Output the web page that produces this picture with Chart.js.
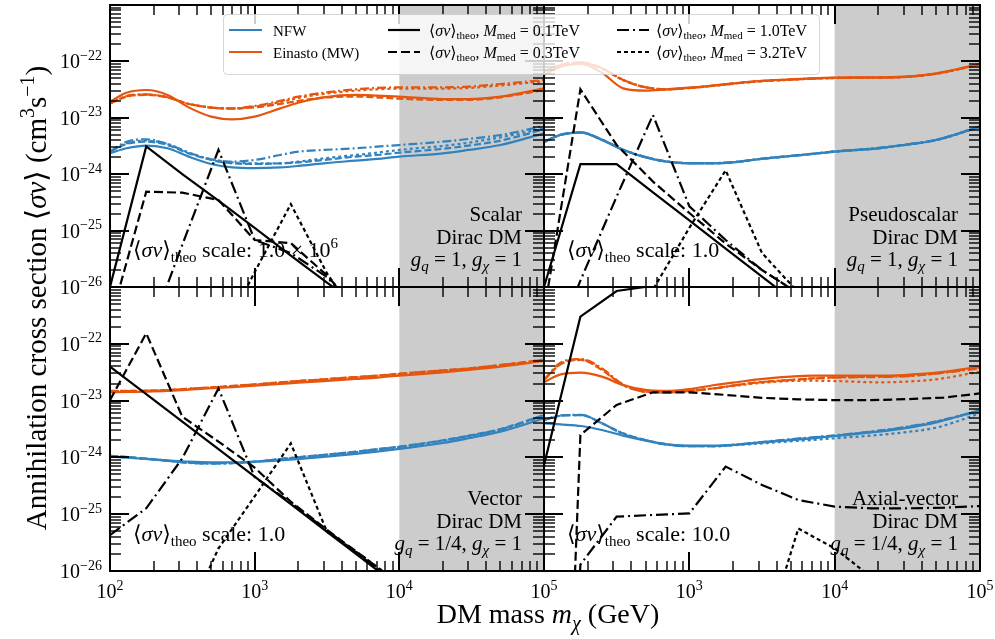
<!DOCTYPE html>
<html>
<head>
<meta charset="utf-8">
<script src="https://cdn.jsdelivr.net/npm/chart.js@4.4.1/dist/chart.umd.min.js"></script>
<style>
  html, body { margin: 0; padding: 0; background: #ffffff; }
  #wrap { position: relative; width: 995px; height: 639px; overflow: hidden; }
  #wrap canvas { position: absolute; left: 0; top: 0; }
</style>
</head>
<body>
<div id="wrap">
  <canvas id="cTL" width="995" height="639"></canvas>
  <canvas id="cTR" width="995" height="639"></canvas>
  <canvas id="cBL" width="995" height="639"></canvas>
  <canvas id="cBR" width="995" height="639"></canvas>
</div>
<script>
// ---------------- DATA ----------------
const massHalo = [100, 130, 180, 250, 350, 500, 700, 1000, 1500, 2000, 3000, 5000, 7000, 10000, 20000, 30000, 50000, 100000];
const massTheo = [100, 178, 316, 562, 1000, 1778, 3162, 5623, 10000, 17783, 31623, 56234, 100000];
const xTickExps = [2, 3, 4, 5];
const yTickExps = [-26, -25, -24, -23, -22, -21];
const xRange = [1e2, 1e5];
const yRange = [1e-26, 1e-21];
const shadeRange = [1e4, 1e5];
const haloLabels = ['NFW', 'Einasto (MW)'];
const mediatorMasses = ['0.1', '0.3', '1.0', '3.2'];
const panelNames = ['Scalar', 'Pseudoscalar', 'Vector', 'Axial-vector'];
const panelSubNames = ['Dirac DM', 'Dirac DM', 'Dirac DM', 'Dirac DM'];
const couplingsQ = ['1', '1', '1/4', '1/4'];
const couplingsChi = ['1', '1', '1', '1'];
const theoScales = [['1.0 × 10', '6'], ['1.0', ''], ['1.0', ''], ['10.0', '']];

// Scalar Dirac DM (top left)
const scalarNFW_01 = [2.34e-24, 2.88e-24, 3.21e-24, 2.88e-24, 2.05e-24, 1.52e-24, 1.32e-24, 1.28e-24, 1.32e-24, 1.40e-24, 1.56e-24, 1.74e-24, 1.87e-24, 2.05e-24, 2.34e-24, 2.69e-24, 3.29e-24, 5.30e-24];
const scalarNFW_03 = [2.51e-24, 3.43e-24, 3.77e-24, 3.29e-24, 2.34e-24, 1.79e-24, 1.56e-24, 1.52e-24, 1.56e-24, 1.62e-24, 1.79e-24, 2.05e-24, 2.19e-24, 2.41e-24, 2.82e-24, 3.21e-24, 3.93e-24, 6.24e-24];
const scalarNFW_10 = [2.51e-24, 3.77e-24, 4.15e-24, 3.43e-24, 2.41e-24, 1.84e-24, 1.67e-24, 1.79e-24, 2.19e-24, 2.51e-24, 2.69e-24, 2.88e-24, 3.08e-24, 3.29e-24, 3.77e-24, 4.21e-24, 4.95e-24, 7.16e-24];
const scalarNFW_32 = [2.51e-24, 3.52e-24, 3.93e-24, 3.43e-24, 2.41e-24, 1.84e-24, 1.62e-24, 1.56e-24, 1.56e-24, 1.67e-24, 1.91e-24, 2.19e-24, 2.41e-24, 2.69e-24, 3.17e-24, 3.62e-24, 4.51e-24, 6.51e-24];
const scalarEin_01 = [1.93e-23, 2.79e-23, 3.11e-23, 2.54e-23, 1.53e-23, 1.05e-23, 9.4e-24, 1.05e-23, 1.47e-23, 1.85e-23, 2.31e-23, 2.54e-23, 2.47e-23, 2.37e-23, 2.15e-23, 2.15e-23, 2.37e-23, 3.33e-23];
const scalarEin_03 = [1.80e-23, 2.37e-23, 2.54e-23, 2.28e-23, 1.76e-23, 1.52e-23, 1.46e-23, 1.53e-23, 1.76e-23, 1.99e-23, 2.28e-23, 2.37e-23, 2.31e-23, 2.18e-23, 2.07e-23, 2.07e-23, 2.31e-23, 3.11e-23];
const scalarEin_10 = [1.80e-23, 2.43e-23, 2.61e-23, 2.31e-23, 1.76e-23, 1.52e-23, 1.47e-23, 1.62e-23, 1.99e-23, 2.37e-23, 2.79e-23, 3.20e-23, 3.38e-23, 3.47e-23, 3.47e-23, 3.56e-23, 3.97e-23, 4.68e-23];
const scalarEin_32 = [1.80e-23, 2.40e-23, 2.58e-23, 2.31e-23, 1.76e-23, 1.52e-23, 1.46e-23, 1.58e-23, 1.90e-23, 2.25e-23, 2.66e-23, 3.03e-23, 3.20e-23, 3.29e-23, 3.29e-23, 3.38e-23, 3.75e-23, 4.43e-23];
const scalarTheo_01 = [1.0e-26, 3.1e-24, 1.0e-24, 3.4e-25, 1.12e-25, 3.6e-26, 1.2e-26, 4.0e-27, 1.3e-27, 4.3e-28, 1.4e-28, 4.6e-29, 1.5e-29];
const scalarTheo_03 = [2.4e-27, 4.9e-25, 4.7e-25, 3.5e-25, 6.8e-26, 6.0e-26, 1.6e-26, 3.0e-27, 1.0e-27, 3.3e-28, 1.1e-28, 3.6e-29, 1.2e-29];
const scalarTheo_10 = [1.0e-28, 1.1e-27, 5.6e-26, 2.7e-24, 6.8e-26, 4.0e-26, 1.5e-26, 3.0e-27, 1.0e-27, 3.3e-28, 1.1e-28, 3.6e-29, 1.2e-29];
const scalarTheo_32 = [1.0e-30, 1.0e-29, 1.0e-28, 1.0e-27, 1.84e-26, 2.95e-25, 1.74e-26, 2.0e-27, 7.0e-28, 2.3e-28, 8.0e-29, 2.6e-29, 9.0e-30];

// Pseudoscalar Dirac DM (top right)
const pseudoNFW_01 = [3.77e-24, 4.95e-24, 5.45e-24, 4.04e-24, 2.69e-24, 1.99e-24, 1.67e-24, 1.56e-24, 1.56e-24, 1.62e-24, 1.84e-24, 2.10e-24, 2.28e-24, 2.51e-24, 2.88e-24, 3.29e-24, 4.04e-24, 6.97e-24];
const pseudoNFW_03 = [3.70e-24, 5.00e-24, 5.50e-24, 4.10e-24, 2.72e-24, 2.00e-24, 1.68e-24, 1.57e-24, 1.57e-24, 1.63e-24, 1.85e-24, 2.11e-24, 2.29e-24, 2.52e-24, 2.90e-24, 3.31e-24, 4.06e-24, 7.00e-24];
const pseudoNFW_10 = [3.72e-24, 5.02e-24, 5.52e-24, 4.12e-24, 2.74e-24, 2.01e-24, 1.68e-24, 1.57e-24, 1.58e-24, 1.64e-24, 1.86e-24, 2.12e-24, 2.30e-24, 2.54e-24, 2.92e-24, 3.33e-24, 4.08e-24, 7.05e-24];
const pseudoNFW_32 = [3.70e-24, 4.98e-24, 5.48e-24, 4.08e-24, 2.71e-24, 2.00e-24, 1.67e-24, 1.57e-24, 1.57e-24, 1.63e-24, 1.84e-24, 2.10e-24, 2.28e-24, 2.50e-24, 2.87e-24, 3.27e-24, 4.00e-24, 6.90e-24];
const pseudoEin_01 = [5.74e-23, 8.07e-23, 9.0e-23, 6.31e-23, 3.33e-23, 3.03e-23, 3.20e-23, 3.42e-23, 3.77e-23, 4.08e-23, 4.49e-23, 4.81e-23, 5.01e-23, 5.15e-23, 5.22e-23, 5.36e-23, 6.14e-23, 9.0e-23];
const pseudoEin_03 = [6.58e-23, 8.63e-23, 9.5e-23, 7.54e-23, 4.68e-23, 3.47e-23, 3.20e-23, 3.38e-23, 3.72e-23, 4.03e-23, 4.43e-23, 4.75e-23, 4.94e-23, 5.08e-23, 5.15e-23, 5.29e-23, 6.07e-23, 8.87e-23];
const pseudoEin_10 = [6.60e-23, 8.70e-23, 9.6e-23, 7.60e-23, 4.72e-23, 3.48e-23, 3.21e-23, 3.40e-23, 3.74e-23, 4.05e-23, 4.46e-23, 4.78e-23, 4.97e-23, 5.10e-23, 5.18e-23, 5.32e-23, 6.10e-23, 8.95e-23];
const pseudoEin_32 = [6.55e-23, 8.60e-23, 9.45e-23, 7.50e-23, 4.65e-23, 3.46e-23, 3.19e-23, 3.37e-23, 3.71e-23, 4.02e-23, 4.42e-23, 4.73e-23, 4.92e-23, 5.06e-23, 5.12e-23, 5.25e-23, 6.00e-23, 8.80e-23];
const pseudoTheo_01 = [1.0e-26, 1.51e-24, 1.51e-24, 4.76e-25, 1.52e-25, 4.78e-26, 1.52e-26, 4.9e-27, 1.6e-27, 5.0e-28, 1.6e-28, 5.0e-29, 1.6e-29];
const pseudoTheo_03 = [3.5e-27, 3.2e-23, 3.3e-24, 7.4e-25, 2.05e-25, 5.9e-26, 2.0e-26, 7.7e-27, 2.5e-27, 8.0e-28, 2.5e-28, 8.0e-29, 2.5e-29];
const pseudoTheo_10 = [3.0e-28, 1.3e-26, 4.0e-25, 1.12e-23, 2.7e-25, 6.8e-26, 2.0e-26, 7.7e-27, 2.5e-27, 8.0e-28, 2.5e-28, 8.0e-29, 2.5e-29];
const pseudoTheo_32 = [1.0e-30, 1.0e-29, 1.0e-27, 9.0e-27, 1.12e-25, 1.17e-24, 4.0e-26, 8.0e-27, 2.5e-27, 8.0e-28, 2.5e-28, 8.0e-29, 2.5e-29];

// Vector Dirac DM (bottom left)
const vectorNFW_01 = [1.03e-24, 9.9e-25, 9.38e-25, 8.87e-25, 8.41e-25, 8.19e-25, 8.19e-25, 8.41e-25, 8.87e-25, 9.38e-25, 1.02e-24, 1.15e-24, 1.26e-24, 1.41e-24, 1.79e-24, 2.17e-24, 2.84e-24, 4.87e-24];
const vectorNFW_03 = [1.07e-24, 1.02e-24, 9.5e-25, 8.76e-25, 8.07e-25, 7.87e-25, 7.97e-25, 8.41e-25, 9.38e-25, 1.01e-24, 1.11e-24, 1.26e-24, 1.40e-24, 1.55e-24, 2.00e-24, 2.41e-24, 3.16e-24, 5.57e-24];
const vectorNFW_10 = [1.06e-24, 1.01e-24, 9.4e-25, 8.70e-25, 8.00e-25, 7.80e-25, 7.90e-25, 8.35e-25, 9.30e-25, 1.00e-24, 1.10e-24, 1.25e-24, 1.38e-24, 1.53e-24, 1.97e-24, 2.38e-24, 3.10e-24, 5.45e-24];
const vectorNFW_32 = [1.05e-24, 1.00e-24, 9.4e-25, 8.72e-25, 8.05e-25, 7.85e-25, 7.95e-25, 8.38e-25, 9.32e-25, 1.00e-24, 1.10e-24, 1.24e-24, 1.37e-24, 1.52e-24, 1.95e-24, 2.35e-24, 3.07e-24, 5.40e-24];
const vectorEin_01 = [1.40e-23, 1.42e-23, 1.44e-23, 1.48e-23, 1.56e-23, 1.65e-23, 1.73e-23, 1.83e-23, 1.96e-23, 2.07e-23, 2.21e-23, 2.40e-23, 2.54e-23, 2.75e-23, 3.15e-23, 3.46e-23, 3.96e-23, 4.98e-23];
const vectorEin_03 = [1.48e-23, 1.48e-23, 1.50e-23, 1.54e-23, 1.62e-23, 1.71e-23, 1.81e-23, 1.93e-23, 2.10e-23, 2.21e-23, 2.37e-23, 2.60e-23, 2.75e-23, 2.98e-23, 3.41e-23, 3.70e-23, 4.24e-23, 5.26e-23];
const vectorEin_10 = [1.46e-23, 1.47e-23, 1.49e-23, 1.53e-23, 1.61e-23, 1.70e-23, 1.80e-23, 1.92e-23, 2.08e-23, 2.20e-23, 2.36e-23, 2.58e-23, 2.73e-23, 2.95e-23, 3.38e-23, 3.66e-23, 4.20e-23, 5.20e-23];
const vectorEin_32 = [1.45e-23, 1.46e-23, 1.48e-23, 1.52e-23, 1.60e-23, 1.69e-23, 1.79e-23, 1.91e-23, 2.07e-23, 2.19e-23, 2.35e-23, 2.57e-23, 2.72e-23, 2.93e-23, 3.35e-23, 3.63e-23, 4.16e-23, 5.15e-23];
const vectorTheo_01 = [3.98e-23, 1.30e-23, 4.27e-24, 1.40e-24, 4.57e-25, 1.50e-25, 4.90e-26, 1.60e-26, 5.2e-27, 1.7e-27, 5.5e-28, 1.8e-28, 6.0e-29];
const vectorTheo_03 = [1.02e-23, 1.53e-22, 5.2e-24, 1.9e-24, 6.6e-25, 1.66e-25, 5.3e-26, 1.79e-26, 6.0e-27, 2.0e-27, 6.5e-28, 2.1e-28, 7.0e-29];
const vectorTheo_10 = [4.3e-26, 1.27e-25, 9.6e-25, 1.64e-23, 4.5e-25, 1.6e-25, 5.2e-26, 1.7e-26, 5.5e-27, 1.8e-27, 6.0e-28, 2.0e-28, 6.5e-29];
const vectorTheo_32 = [1.0e-30, 1.0e-29, 1.0e-27, 2.5e-26, 2.06e-25, 1.77e-24, 4.9e-26, 1.79e-26, 6.0e-27, 2.0e-27, 6.5e-28, 2.1e-28, 7.0e-29];

// Axial-vector Dirac DM (bottom right)
const axialNFW_01 = [3.98e-24, 3.81e-24, 3.57e-24, 3.04e-24, 2.41e-24, 1.97e-24, 1.70e-24, 1.61e-24, 1.61e-24, 1.66e-24, 1.82e-24, 2.02e-24, 2.17e-24, 2.38e-24, 2.84e-24, 3.25e-24, 4.14e-24, 6.84e-24];
const axialNFW_03 = [4.55e-24, 5.42e-24, 5.57e-24, 3.98e-24, 2.65e-24, 2.02e-24, 1.70e-24, 1.57e-24, 1.57e-24, 1.66e-24, 1.82e-24, 2.06e-24, 2.22e-24, 2.41e-24, 2.92e-24, 3.34e-24, 4.26e-24, 6.56e-24];
const axialNFW_10 = [4.55e-24, 5.50e-24, 5.60e-24, 4.00e-24, 2.60e-24, 2.00e-24, 1.68e-24, 1.57e-24, 1.57e-24, 1.66e-24, 1.84e-24, 2.10e-24, 2.26e-24, 2.45e-24, 2.95e-24, 3.40e-24, 4.30e-24, 6.70e-24];
const axialNFW_32 = [4.55e-24, 5.42e-24, 5.57e-24, 3.98e-24, 2.65e-24, 2.02e-24, 1.70e-24, 1.57e-24, 1.57e-24, 1.64e-24, 1.75e-24, 1.92e-24, 2.02e-24, 2.17e-24, 2.48e-24, 2.76e-24, 3.34e-24, 5.97e-24];
const axialEin_01 = [2.10e-23, 2.90e-23, 3.10e-23, 2.64e-23, 1.88e-23, 1.54e-23, 1.48e-23, 1.60e-23, 1.88e-23, 2.07e-23, 2.37e-23, 2.64e-23, 2.75e-23, 2.75e-23, 2.75e-23, 2.82e-23, 3.10e-23, 3.96e-23];
const axialEin_03 = [2.31e-23, 4.35e-23, 5.19e-23, 3.46e-23, 1.88e-23, 1.44e-23, 1.40e-23, 1.48e-23, 1.65e-23, 1.84e-23, 2.10e-23, 2.31e-23, 2.47e-23, 2.57e-23, 2.64e-23, 2.71e-23, 3.02e-23, 3.80e-23];
const axialEin_10 = [2.31e-23, 4.66e-23, 5.40e-23, 3.70e-23, 1.93e-23, 1.44e-23, 1.40e-23, 1.48e-23, 1.65e-23, 1.84e-23, 2.10e-23, 2.31e-23, 2.43e-23, 2.54e-23, 2.60e-23, 2.67e-23, 2.98e-23, 3.70e-23];
const axialEin_32 = [2.31e-23, 4.47e-23, 5.26e-23, 3.60e-23, 1.88e-23, 1.44e-23, 1.40e-23, 1.48e-23, 1.65e-23, 1.81e-23, 2.04e-23, 2.21e-23, 2.24e-23, 2.21e-23, 2.10e-23, 2.15e-23, 2.37e-23, 3.23e-23];
const axialTheo_01 = [7.3e-25, 3.0e-22, 8.5e-22, 1.05e-21, 1.1e-21, 1.1e-21, 1.1e-21, 1.15e-21, 1.2e-21, 1.2e-21, 1.2e-21, 1.2e-21, 1.2e-21];
const axialTheo_03 = [1.0e-40, 2.48e-24, 8.4e-24, 1.40e-23, 1.40e-23, 1.26e-23, 1.12e-23, 1.05e-23, 1.02e-23, 1.02e-23, 1.06e-23, 1.13e-23, 1.34e-23];
const axialTheo_10 = [1.0e-40, 1.3e-26, 9.06e-26, 9.7e-26, 1.03e-25, 6.9e-25, 3.27e-25, 1.78e-25, 1.36e-25, 1.27e-25, 1.27e-25, 1.30e-25, 1.39e-25];
const axialTheo_32 = [1.0e-40, 1.0e-40, 1.0e-40, 1.0e-40, 1.0e-40, 1.0e-30, 4.7e-28, 5.6e-26, 2.5e-26, 7.9e-27, 3.0e-27, 1.0e-27, 4.0e-28];

// ---------------- STYLE ----------------
const COLOR_NFW = '#3182bd';
const COLOR_EIN = '#e6550d';
const SHADE = '#cccccc';
const haloDash = [[], [7, 3], [9, 3, 2, 3], [3, 3]];
const theoDash = [[], [9, 4], [12, 4, 2, 4], [4, 3]];
const FONT = '"Liberation Serif", "Times New Roman", "DejaVu Serif", serif';

function fnt(size, italic) { return (italic ? 'italic ' : '') + size + 'px ' + FONT; }

function drawRich(ctx, parts, x, y, size, align) {
  const items = parts.filter(p => p[0] !== '').map(p => {
    const t = p[0], st = p[1] || '';
    const small = st.includes('b') || st.includes('p');
    const fs = small ? Math.round(size * 0.7) : size;
    const f = fnt(fs, st.includes('i'));
    ctx.font = f;
    return { t, f, w: ctx.measureText(t).width,
             dy: st.includes('b') ? size * 0.24 : (st.includes('p') ? -size * 0.42 : 0) };
  });
  const total = items.reduce((a, b) => a + b.w, 0);
  let cx = align === 'right' ? x - total : (align === 'center' ? x - total / 2 : x);
  ctx.textAlign = 'left';
  ctx.textBaseline = 'alphabetic';
  for (const it of items) { ctx.font = it.f; ctx.fillText(it.t, cx, y + it.dy); cx += it.w; }
  return total;
}

function supStr(n) { return String(n).replace('-', '\u2212'); }

const panels = {
  cTL: { idx: 0, area: [110, 5, 544, 287], yLabels: [-26, -25, -24, -23, -22], xLabels: [],
         nfw: [scalarNFW_01, scalarNFW_03, scalarNFW_10, scalarNFW_32],
         ein: [scalarEin_01, scalarEin_03, scalarEin_10, scalarEin_32],
         theo: [scalarTheo_01, scalarTheo_03, scalarTheo_10, scalarTheo_32] },
  cTR: { idx: 1, area: [544, 5, 980, 287], yLabels: [], xLabels: [],
         nfw: [pseudoNFW_01, pseudoNFW_03, pseudoNFW_10, pseudoNFW_32],
         ein: [pseudoEin_01, pseudoEin_03, pseudoEin_10, pseudoEin_32],
         theo: [pseudoTheo_01, pseudoTheo_03, pseudoTheo_10, pseudoTheo_32] },
  cBL: { idx: 2, area: [110, 287, 544, 571], yLabels: [-26, -25, -24, -23, -22], xLabels: [2, 3, 4, 5],
         nfw: [vectorNFW_01, vectorNFW_03, vectorNFW_10, vectorNFW_32],
         ein: [vectorEin_01, vectorEin_03, vectorEin_10, vectorEin_32],
         theo: [vectorTheo_01, vectorTheo_03, vectorTheo_10, vectorTheo_32] },
  cBR: { idx: 3, area: [544, 287, 980, 571], yLabels: [], xLabels: [3, 4, 5],
         nfw: [axialNFW_01, axialNFW_03, axialNFW_10, axialNFW_32],
         ein: [axialEin_01, axialEin_03, axialEin_10, axialEin_32],
         theo: [axialTheo_01, axialTheo_03, axialTheo_10, axialTheo_32] }
};

function pts(xs, ys) { return xs.map((m, i) => ({ x: m, y: ys[i] })); }

function buildDatasets(p) {
  const ds = [];
  p.theo.forEach((arr, i) => ds.push({ label: 'theo ' + mediatorMasses[i], data: pts(massTheo, arr),
    borderColor: '#000000', borderWidth: 2.2, borderDash: theoDash[i], tension: 0, pointRadius: 0, fill: false }));
  p.ein.forEach((arr, i) => ds.push({ label: haloLabels[1] + ' ' + mediatorMasses[i], data: pts(massHalo, arr),
    borderColor: COLOR_EIN, borderWidth: 2.2, borderDash: haloDash[i], cubicInterpolationMode: 'monotone', pointRadius: 0, fill: false }));
  p.nfw.forEach((arr, i) => ds.push({ label: haloLabels[0] + ' ' + mediatorMasses[i], data: pts(massHalo, arr),
    borderColor: COLOR_NFW, borderWidth: 2.2, borderDash: haloDash[i], cubicInterpolationMode: 'monotone', pointRadius: 0, fill: false }));
  return ds;
}

function line(ctx, x0, y0, x1, y1) { ctx.beginPath(); ctx.moveTo(x0, y0); ctx.lineTo(x1, y1); ctx.stroke(); }

function drawFrame(chart) {
  const { ctx, chartArea: a } = chart;
  const xs = chart.scales.x, ys = chart.scales.y;
  ctx.save();
  ctx.strokeStyle = '#000000';
  ctx.lineCap = 'butt';
  for (let e = xTickExps[0]; e <= xTickExps[xTickExps.length - 1]; e++) {
    for (let m = 1; m <= 9; m++) {
      const v = m * Math.pow(10, e);
      if (v > xRange[1] * 1.0001) break;
      const px = Math.round(xs.getPixelForValue(v));
      const major = m === 1;
      const L = major ? 19 : 10;
      ctx.lineWidth = major ? 2 : 1.4;
      line(ctx, px, a.bottom, px, a.bottom - L);
      line(ctx, px, a.top, px, a.top + L);
    }
  }
  for (let e = yTickExps[0]; e <= yTickExps[yTickExps.length - 1]; e++) {
    for (let m = 1; m <= 9; m++) {
      const v = m * Math.pow(10, e);
      if (v > yRange[1] * 1.0001) break;
      const py = Math.round(ys.getPixelForValue(v));
      const major = m === 1;
      const L = major ? 19 : 11;
      ctx.lineWidth = major ? 2 : 1.4;
      line(ctx, a.left, py, a.left + L, py);
      line(ctx, a.right, py, a.right - L, py);
    }
  }
  ctx.lineWidth = 2;
  ctx.strokeRect(a.left, a.top, a.right - a.left, a.bottom - a.top);
  ctx.restore();
}

function drawTickLabels(chart, p) {
  const { ctx, chartArea: a } = chart;
  const xs = chart.scales.x, ys = chart.scales.y;
  ctx.save();
  ctx.fillStyle = '#000000';
  p.yLabels.forEach(e => {
    const py = ys.getPixelForValue(Math.pow(10, e));
    drawRich(ctx, [['10', ''], [supStr(e), 'p']], a.left - 8, py + 7, 20, 'right');
  });
  p.xLabels.forEach(e => {
    const px = xs.getPixelForValue(Math.pow(10, e));
    drawRich(ctx, [['10', ''], [supStr(e), 'p']], px, a.bottom + 27, 20, 'center');
  });
  ctx.restore();
}

function drawAnnotations(chart, p) {
  const { ctx, chartArea: a } = chart;
  const i = p.idx;
  ctx.save();
  ctx.fillStyle = '#000000';
  const xr = a.right - 22;
  drawRich(ctx, [[panelNames[i], '']], xr, a.bottom - 66, 21, 'right');
  drawRich(ctx, [[panelSubNames[i], '']], xr, a.bottom - 43, 21, 'right');
  drawRich(ctx, [['g', 'i'], ['q', 'ib'], [' = ' + couplingsQ[i] + ', ', ''], ['g', 'i'], ['\u03c7', 'ib'], [' = ' + couplingsChi[i], '']],
           xr, a.bottom - 21, 21, 'right');
  drawRich(ctx, [['\u27e8', ''], ['\u03c3v', 'i'], ['\u27e9', ''], ['theo', 'b'], [' scale: ' + theoScales[i][0], ''], [theoScales[i][1], 'p']],
           a.left + 23, a.bottom - 30, 22, 'left');
  ctx.restore();
}

function drawLegend(ctx) {
  ctx.save();
  const x0 = 223.5, y0 = 14.5, w = 596, h = 60, r = 4;
  ctx.beginPath();
  ctx.moveTo(x0 + r, y0); ctx.lineTo(x0 + w - r, y0); ctx.arcTo(x0 + w, y0, x0 + w, y0 + r, r);
  ctx.lineTo(x0 + w, y0 + h - r); ctx.arcTo(x0 + w, y0 + h, x0 + w - r, y0 + h, r);
  ctx.lineTo(x0 + r, y0 + h); ctx.arcTo(x0, y0 + h, x0, y0 + h - r, r);
  ctx.lineTo(x0, y0 + r); ctx.arcTo(x0, y0, x0 + r, y0, r); ctx.closePath();
  ctx.fillStyle = 'rgba(255,255,255,0.8)'; ctx.fill();
  ctx.strokeStyle = 'rgba(204,204,204,0.8)'; ctx.lineWidth = 1; ctx.stroke();
  const rows = [30, 52];
  const cols = [[229, 262, 273], [388, 420, 429], [617, 649, 656]];
  const entries = [
    { col: 0, row: 0, color: COLOR_NFW, dash: [], size: 15, parts: [[haloLabels[0], '']] },
    { col: 0, row: 1, color: COLOR_EIN, dash: [], size: 15, parts: [[haloLabels[1], '']] }
  ];
  mediatorMasses.forEach((m, i) => entries.push({ col: 1 + Math.floor(i / 2), row: i % 2, color: '#000000', dash: theoDash[i], size: 16,
    parts: [['\u27e8', ''], ['\u03c3v', 'i'], ['\u27e9', ''], ['theo', 'b'], [', ', ''], ['M', 'i'], ['med', 'b'], [' = ' + m + 'TeV', '']] }));
  entries.forEach(en => {
    const c = cols[en.col], y = rows[en.row];
    ctx.strokeStyle = en.color; ctx.lineWidth = 2.2; ctx.setLineDash(en.dash);
    line(ctx, c[0], y, c[1], y);
    ctx.setLineDash([]);
    ctx.fillStyle = '#000000';
    drawRich(ctx, en.parts, c[2], y + 5.5, en.size, 'left');
  });
  ctx.restore();
}

function drawAxisTitles(ctx) {
  ctx.save();
  ctx.fillStyle = '#000000';
  drawRich(ctx, [['DM mass ', ''], ['m', 'i'], ['\u03c7', 'ib'], [' (GeV)', '']], 548, 623, 28, 'center');
  ctx.translate(46, 298);
  ctx.rotate(-Math.PI / 2);
  drawRich(ctx, [['Annihilation cross section \u27e8', ''], ['\u03c3v', 'i'], ['\u27e9 (cm', ''], ['3', 'p'], ['s', ''], ['\u22121', 'p'], [')', '']],
           0, 0, 29, 'center');
  ctx.restore();
}

const panelPlugin = {
  id: 'panelDeco',
  beforeDatasetsDraw(chart) {
    const { ctx, chartArea: a } = chart;
    const xs = chart.scales.x;
    const x0 = xs.getPixelForValue(shadeRange[0]), x1 = xs.getPixelForValue(shadeRange[1]);
    ctx.save(); ctx.fillStyle = SHADE; ctx.fillRect(x0, a.top, x1 - x0, a.bottom - a.top); ctx.restore();
  },
  afterDatasetsDraw(chart) {
    const p = panels[chart.canvas.id];
    drawFrame(chart);
    drawTickLabels(chart, p);
    drawAnnotations(chart, p);
    if (chart.canvas.id === 'cTR') drawLegend(chart.ctx);
    if (chart.canvas.id === 'cBR') drawAxisTitles(chart.ctx);
  }
};

Object.keys(panels).forEach(id => {
  const p = panels[id];
  const [l, t, r, b] = p.area;
  new Chart(document.getElementById(id), {
    type: 'line',
    data: { datasets: buildDatasets(p) },
    options: {
      responsive: false,
      animation: false,
      events: [],
      layout: { padding: { left: l, top: t, right: 995 - r, bottom: 639 - b } },
      plugins: { legend: { display: false }, tooltip: { enabled: false } },
      elements: { point: { radius: 0 }, line: { borderCapStyle: 'butt' } },
      scales: {
        x: { type: 'logarithmic', min: xRange[0], max: xRange[1], display: false },
        y: { type: 'logarithmic', min: yRange[0], max: yRange[1], display: false }
      }
    },
    plugins: [panelPlugin]
  });
});
</script>
</body>
</html>
